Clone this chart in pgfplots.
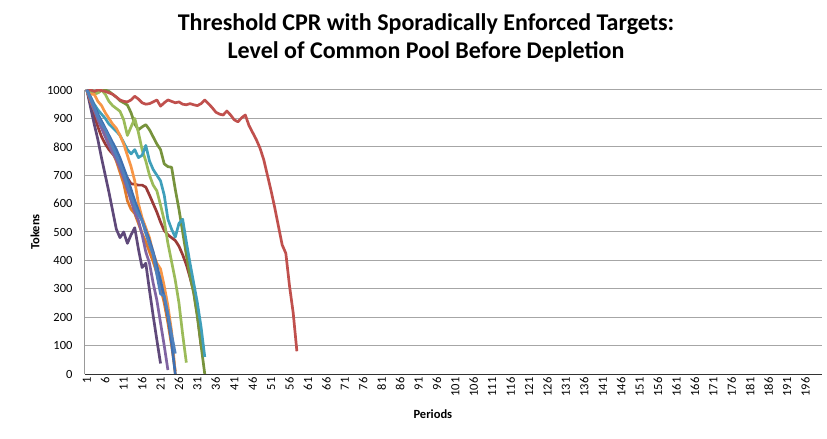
\documentclass[border=0pt]{standalone}
\usepackage{fontspec}
\setmainfont{Carlito}
\usepackage{pgfplots}
\pgfplotsset{compat=1.18}
\usetikzlibrary{calc}

\definecolor{xblue}{HTML}{4F81BD}
\definecolor{xblue2}{HTML}{3E6FB0}
\definecolor{xred}{HTML}{C0504D}
\definecolor{xdkred}{HTML}{9B3B38}
\definecolor{xgreen}{HTML}{9BBB59}
\definecolor{xolive}{HTML}{77933C}
\definecolor{xpurple}{HTML}{8064A2}
\definecolor{xdkpurple}{HTML}{5F497A}
\definecolor{xteal}{HTML}{3F9FBA}
\definecolor{xorange}{HTML}{F79646}
\definecolor{xorange2}{HTML}{E07A2A}

\begin{document}
\begin{tikzpicture}
\begin{axis}[
  scale only axis, width=737bp, height=284bp,
  xmin=0.5, xmax=200.5, ymin=0, ymax=1000,
  xtick={1,6,...,196}, ytick={0,100,...,1000},
  axis x line*=bottom, axis y line*=left,
  x axis line style={-, draw=black!80, line width=1bp},
  y axis line style={-, draw=gray!80, line width=1bp},
  major tick length=0pt,
  ymajorgrids, grid style={draw=gray!70, line width=1bp},
  /pgf/number format/assume math mode=true,
  /pgf/number format/1000 sep={},
  xticklabel style={rotate=90, anchor=east, font=\fontsize{12.5bp}{14bp}\selectfont},
  yticklabel style={font=\fontsize{12.5bp}{14bp}\selectfont, xshift=-9bp},
  title={Threshold CPR with Sporadically Enforced Targets:\\Level of Common Pool Before Depletion},
  title style={at={(axis description cs:0.4627,1.162)}, anchor=center, align=center,
    font=\bfseries\fontsize{24bp}{28bp}\selectfont},
  xlabel={Periods},
  xlabel style={at={(axis description cs:0.472,-0.141)}, anchor=center,
    font=\bfseries\fontsize{12.5bp}{14bp}\selectfont},
  ylabel={Tokens},
  ylabel style={at={(axis description cs:-0.0678,0.5)}, anchor=center,
    font=\bfseries\fontsize{12.5bp}{14bp}\selectfont},
  every axis plot/.append style={line width=2.7bp, line join=round, no marks},
]
% dark red
\addplot[xdkred] coordinates {(1,1000)(2,955)(3,910)(4,870)(5,835)(6,810)(7,790)(8,775)(9,760)(10,740)(11,715)(12,690)(13,670)(14,668)(15,665)(16,665)(17,658)(18,630)(19,600)(20,570)(21,535)(22,505)(23,490)(24,480)(25,470)(26,450)(27,420)(28,385)(29,340)(30,290)(31,210)(32,100)};
% olive
\addplot[xolive] coordinates {(1,1000)(2,1000)(3,995)(4,990)(5,1000)(6,1000)(7,995)(8,985)(9,975)(10,962)(11,955)(12,947)(13,920)(14,880)(15,860)(16,870)(17,878)(18,860)(19,835)(20,810)(21,790)(22,740)(23,730)(24,728)(25,650)(26,580)(27,500)(28,420)(29,345)(30,285)(31,200)(32,100)(33,0)};
% light green
\addplot[xgreen] coordinates {(1,1000)(2,995)(3,985)(4,990)(5,1000)(6,985)(7,960)(8,945)(9,935)(10,925)(11,895)(12,840)(13,870)(14,900)(15,850)(16,790)(17,750)(18,700)(19,665)(20,645)(21,595)(22,540)(23,460)(24,395)(25,330)(26,250)(27,140)(28,40)};
% teal
\addplot[xteal] coordinates {(1,1000)(2,975)(3,950)(4,930)(5,915)(6,900)(7,880)(8,868)(9,855)(10,840)(11,815)(12,790)(13,775)(14,790)(15,762)(16,770)(17,805)(18,750)(19,720)(20,700)(21,680)(22,630)(23,545)(24,510)(25,482)(26,530)(27,545)(28,465)(29,390)(30,320)(31,250)(32,165)(33,60)};
% red (long)
\addplot[xred] coordinates {(1,1000)(2,1000)(3,995)(4,1000)(5,998)(6,995)(7,990)(8,985)(9,975)(10,965)(11,960)(12,958)(13,965)(14,978)(15,968)(16,955)(17,950)(18,952)(19,958)(20,965)(21,943)(22,955)(23,965)(24,960)(25,955)(26,958)(27,950)(28,948)(29,952)(30,948)(31,945)(32,952)(33,965)(34,952)(35,938)(36,922)(37,915)(38,912)(39,926)(40,912)(41,895)(42,888)(43,902)(44,912)(45,875)(46,850)(47,825)(48,795)(49,755)(50,700)(51,645)(52,585)(53,520)(54,455)(55,425)(56,310)(57,215)(58,80)};
% dark purple
\addplot[xdkpurple] coordinates {(1,1000)(2,940)(3,880)(4,825)(5,760)(6,700)(7,640)(8,575)(9,510)(10,480)(11,500)(12,460)(13,490)(14,515)(15,440)(16,375)(17,390)(18,295)(19,205)(20,120)(21,37)};
% orange 2
\addplot[xorange2] coordinates {(1,1000)(2,960)(3,930)(4,900)(5,870)(6,840)(7,810)(8,780)(9,750)(10,710)(11,670)(12,610)(13,580)(14,565)(15,530)(16,495)(17,465)(18,430)(19,395)(20,355)(21,305)(22,250)(23,180)(24,100)(25,10)};
% purple
\addplot[xpurple] coordinates {(1,1000)(2,965)(3,930)(4,895)(5,865)(6,835)(7,805)(8,780)(9,755)(10,725)(11,690)(12,650)(13,610)(14,570)(15,540)(16,490)(17,430)(18,390)(19,320)(20,260)(21,180)(22,100)(23,14)};
% orange
\addplot[xorange] coordinates {(1,990)(2,985)(3,985)(4,960)(5,945)(6,920)(7,900)(8,880)(9,865)(10,840)(11,810)(12,770)(13,730)(14,680)(15,600)(16,550)(17,515)(18,480)(19,425)(20,390)(21,370)(22,310)(23,240)(24,150)(25,0)};
% blue 2
\addplot[xblue2] coordinates {(1,1000)(2,975)(3,945)(4,915)(5,890)(6,865)(7,840)(8,815)(9,790)(10,760)(11,725)(12,690)(13,650)(14,610)(15,575)(16,540)(17,505)(18,470)(19,430)(20,380)(21,330)(22,270)(23,200)(24,110)(25,0)};
% blue
\addplot[xblue] coordinates {(1,1000)(2,970)(3,940)(4,905)(5,880)(6,860)(7,830)(8,800)(9,770)(10,740)(11,705)(12,665)(13,625)(14,590)(15,560)(16,540)(17,495)(18,455)(19,420)(20,350)(21,282)(22,275)(23,213)(24,140)(25,72)};
\coordinate (bl) at (rel axis cs:0,0);
\coordinate (tr) at (rel axis cs:1,1);
\end{axis}
\pgfresetboundingbox
\path[use as bounding box] ($(bl)+(-85bp,-65bp)$) rectangle ($(tr)+(5bp,90bp)$);
\end{tikzpicture}
\end{document}
